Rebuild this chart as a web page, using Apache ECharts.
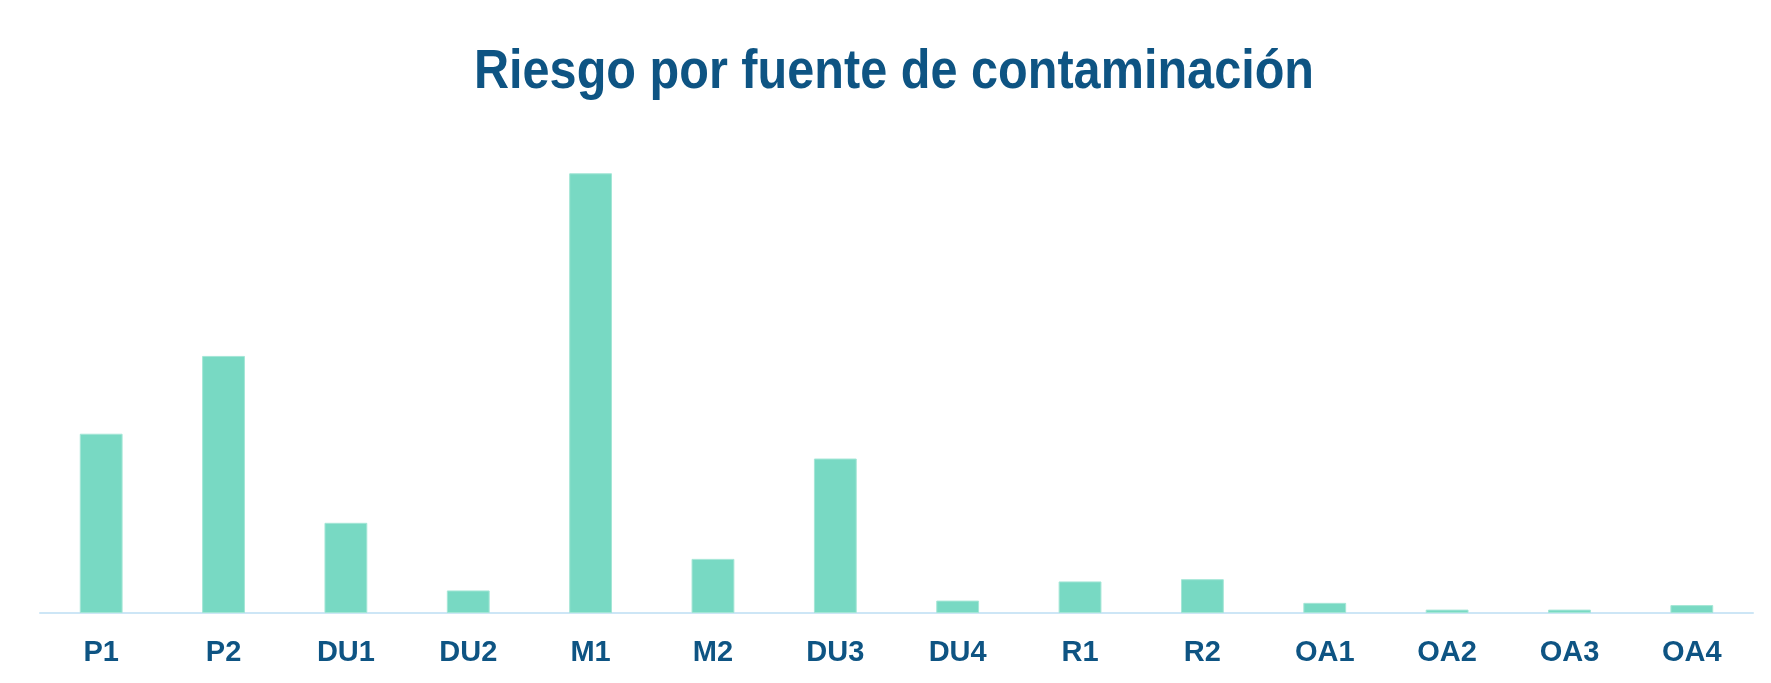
<!DOCTYPE html>
<html>
<head>
<meta charset="utf-8">
<script src="https://cdn.jsdelivr.net/npm/echarts@6/dist/echarts.min.js"></script>
<style>
html,body{margin:0;padding:0;background:#fff;}
#chart{width:1771px;height:683px;}
</style>
</head>
<body>
<div id="chart"></div>
<script>
const titleText = "Riesgo por fuente de contaminación";
const categories = ["P1","P2","DU1","DU2","M1","M2","DU3","DU4","R1","R2","OA1","OA2","OA3","OA4"];
const riskValues = [15.9, 22.8, 8.0, 2.0, 39.0, 4.8, 13.7, 1.1, 2.8, 3.0, 0.9, 0.3, 0.3, 0.7];

const FONT = '"Liberation Sans", Arial, sans-serif';
const TEXT_COLOR = '#0E5483';
const chart = echarts.init(document.getElementById('chart'), null, {renderer: 'canvas'});
chart.setOption({
  backgroundColor: '#ffffff',
  animation: false,
  graphic: [{
    type: 'text',
    x: 894,
    y: 45,
    scaleX: 0.935,
    scaleY: 1.06,
    style: {
      text: titleText,
      font: 'bold 52px ' + FONT,
      fill: TEXT_COLOR,
      align: 'center',
      verticalAlign: 'top'
    }
  }],
  grid: {left: 40, right: 18, top: 162, bottom: 70, containLabel: false},
  xAxis: {
    type: 'category',
    data: categories,
    axisLine: {show: true, lineStyle: {color: '#CDE6F6', width: 2}},
    axisTick: {show: false},
    axisLabel: {fontFamily: FONT, fontWeight: 'bold', fontSize: 29, color: TEXT_COLOR, margin: 25}
  },
  yAxis: {
    type: 'value',
    min: 0,
    max: 40,
    show: false,
    splitLine: {show: false}
  },
  series: [{
    type: 'bar',
    data: riskValues,
    barWidth: '35%',
    itemStyle: {color: '#78D9C3', borderColor: '#A4E6D6', borderWidth: 1}
  }]
});
</script>
</body>
</html>
